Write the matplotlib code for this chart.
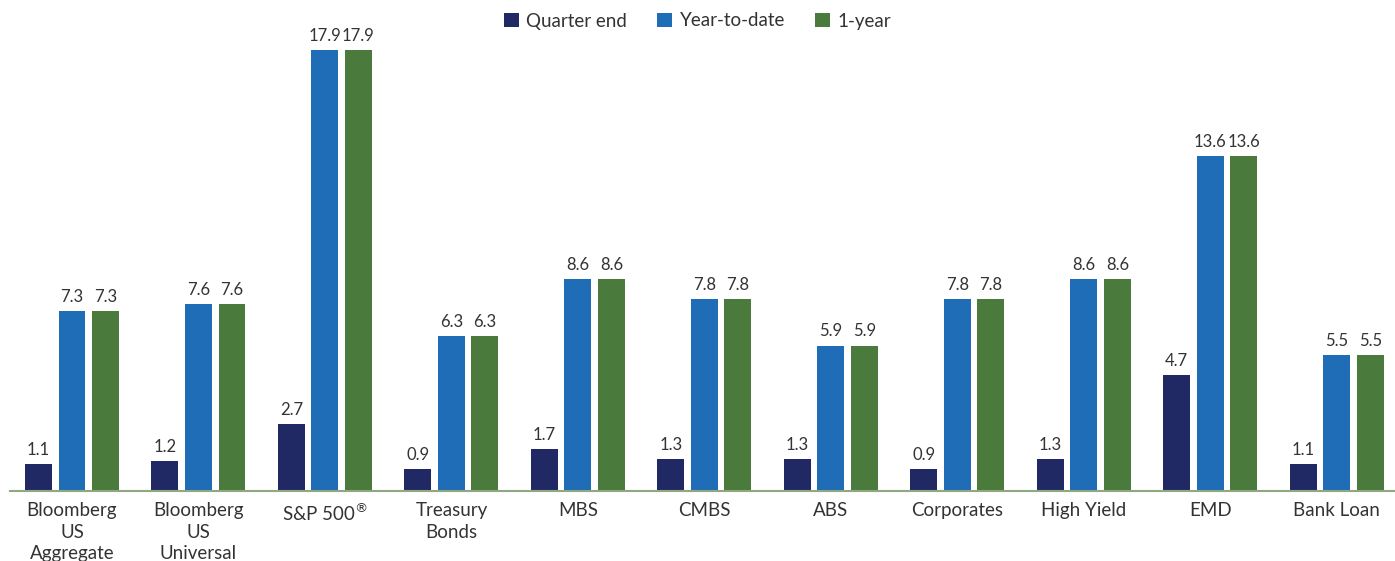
import matplotlib
matplotlib.use("Agg")
import matplotlib.pyplot as plt
import numpy as np

categories = ["Bloomberg\nUS\nAggregate", "Bloomberg\nUS\nUniversal", "S&P 500$^{®}$",
              "Treasury\nBonds", "MBS", "CMBS", "ABS", "Corporates", "High Yield", "EMD", "Bank Loan"]
quarter_end = [1.1, 1.2, 2.7, 0.9, 1.7, 1.3, 1.3, 0.9, 1.3, 4.7, 1.1]
year_to_date = [7.3, 7.6, 17.9, 6.3, 8.6, 7.8, 5.9, 7.8, 8.6, 13.6, 5.5]
one_year = [7.3, 7.6, 17.9, 6.3, 8.6, 7.8, 5.9, 7.8, 8.6, 13.6, 5.5]
series_names = ["Quarter end", "Year-to-date", "1-year"]
colors = ["#212964", "#1e6db6", "#4a7b3d"]

plt.rcParams['font.family'] = ['Lato', 'DejaVu Sans']
fig = plt.figure(figsize=(13.95, 5.61), dpi=100)
ax = fig.add_axes([10/1395, 70/561, 1 - 10/1395, (491-35.2)/561])

x = np.arange(len(categories))
w = 0.213
off = 0.265
for i, (vals, name, c) in enumerate(zip([quarter_end, year_to_date, one_year], series_names, colors)):
    bars = ax.bar(x + (i-1)*off, vals, width=w, color=c, label=name)
    for b, v in zip(bars, vals):
        ax.text(b.get_x() + b.get_width()/2, v + 0.25, f"{v:.1f}", ha="center", va="bottom",
                fontsize=12, color="#333333")

ax.set_xlim(-0.49, len(categories) - 1 + 0.46)
ax.set_ylim(0, 18.5)
ax.set_yticks([])
ax.set_xticks(x)
ax.set_xticklabels(categories, fontsize=13.5, color="#333333", linespacing=1.32)
ax.tick_params(axis="x", length=0, pad=8)
for s in ["top", "right", "left"]:
    ax.spines[s].set_visible(False)
ax.spines["bottom"].set_color("#8fa882")
ax.spines["bottom"].set_linewidth(1.5)

leg = fig.legend(loc="center", bbox_to_anchor=(0.5, 1 - 21/561), ncol=3, frameon=False,
                 fontsize=13.5, handlelength=0.8, handleheight=0.8, handletextpad=0.4,
                 columnspacing=1.6, labelcolor="#333333")
fig.savefig("out.png", dpi=100)
